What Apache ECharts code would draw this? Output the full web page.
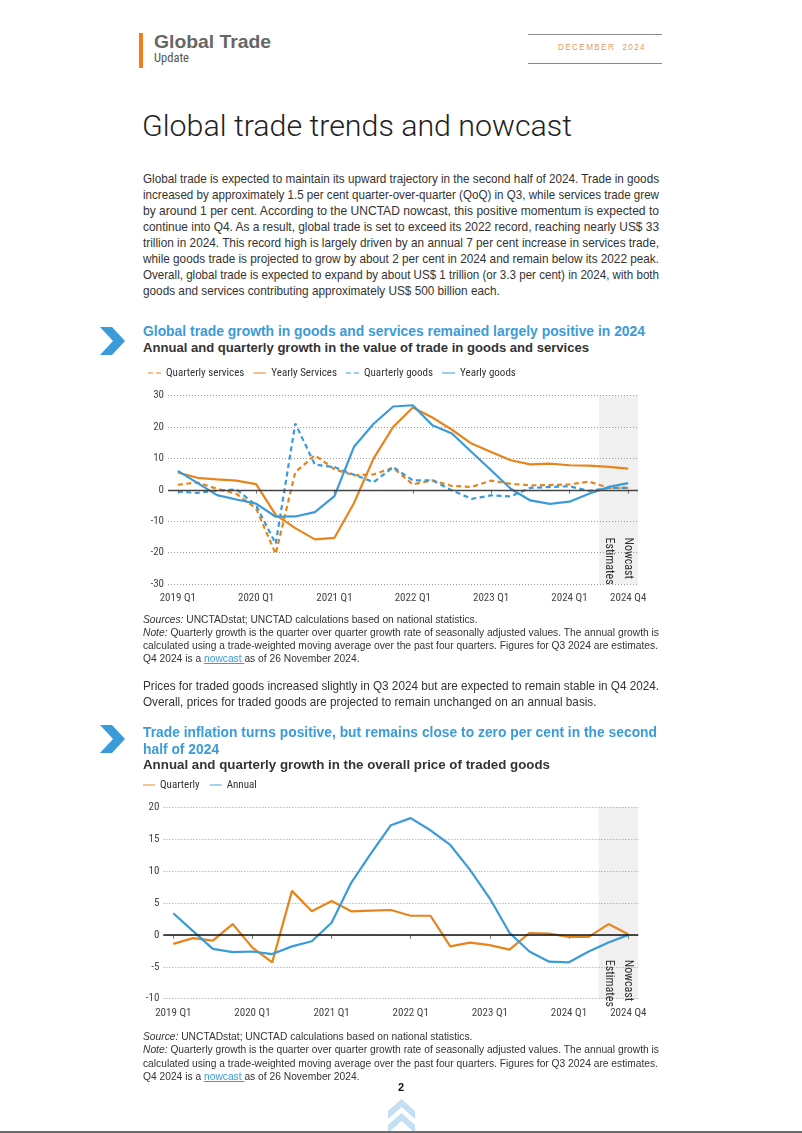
<!DOCTYPE html>
<html><head><meta charset="utf-8">
<script src="https://cdn.jsdelivr.net/npm/echarts@6/dist/echarts.min.js"></script>
<style>
html,body{margin:0;padding:0;background:#fff;}
body{width:802px;height:1133px;position:relative;overflow:hidden;font-family:'Liberation Sans',Arial,Helvetica,sans-serif;color:#333;}
.t{position:absolute;white-space:nowrap;transform-origin:0 50%;}
.b{font-weight:bold;}
.cn{font-family:'Roboto Condensed','Liberation Sans Narrow','Arial Narrow',sans-serif;}
.lk{color:#3b9bd8;text-decoration:underline;}
.blue{color:#3b9bd8;}
#c1{position:absolute;left:130px;top:360px;width:520px;height:250px;}
#c2{position:absolute;left:130px;top:775px;width:520px;height:250px;}
</style></head><body>

<!-- header -->
<div style="position:absolute;left:139px;top:33px;width:4px;height:35px;background:#f07d1a"></div>
<div class="t b" data-x="154" data-y="43" data-s="19" data-w="117" style="color:#666">Global Trade</div>
<div class="t cn" data-x="154" data-y="59" data-s="12" data-w="35" style="color:#555">Update</div>
<div style="position:absolute;left:528px;top:34px;width:134px;height:1.3px;background:#8a8a8a"></div>
<div style="position:absolute;left:528px;top:63px;width:134px;height:1.3px;background:#8a8a8a"></div>
<div class="t" data-x="558" data-y="47" data-s="8.5" data-w="88" style="color:#e59a62;letter-spacing:1.4px">DECEMBER&nbsp;&nbsp;2024</div>

<div class="t" data-x="142" data-y="127" data-s="30" data-w="430" style="font-family:Roboto,'Liberation Sans',sans-serif;font-weight:300;color:#222">Global trade trends and nowcast</div>

<!-- paragraph 1 -->
<div class="t" data-x="143" data-y="180" data-s="12.6" data-w="516" data-g="p1">Global trade is expected to maintain its upward trajectory in the second half of 2024. Trade in goods</div>
<div class="t" data-x="143" data-y="196" data-s="12.6" data-w="516" data-g="p1">increased by approximately 1.5 per cent quarter-over-quarter (QoQ) in Q3, while services trade grew</div>
<div class="t" data-x="143" data-y="212" data-s="12.6" data-w="516" data-g="p1">by around 1 per cent. According to the UNCTAD nowcast, this positive momentum is expected to</div>
<div class="t" data-x="143" data-y="228" data-s="12.6" data-w="516" data-g="p1">continue into Q4. As a result, global trade is set to exceed its 2022 record, reaching nearly US$ 33</div>
<div class="t" data-x="143" data-y="244" data-s="12.6" data-w="516" data-g="p1">trillion in 2024. This record high is largely driven by an annual 7 per cent increase in services trade,</div>
<div class="t" data-x="143" data-y="260" data-s="12.6" data-w="516" data-g="p1">while goods trade is projected to grow by about 2 per cent in 2024 and remain below its 2022 peak.</div>
<div class="t" data-x="143" data-y="276" data-s="12.6" data-w="516" data-g="p1">Overall, global trade is expected to expand by about US$ 1 trillion (or 3.3 per cent) in 2024, with both</div>
<div class="t" data-x="143" data-y="292" data-s="12.6" data-g="p1">goods and services contributing approximately US$ 500 billion each.</div>

<!-- chart 1 heading -->
<svg style="position:absolute;left:100px;top:327px" width="26" height="29"><polygon points="0,0 12,0 25,14 12,28 0,28 13,14" fill="#3b9bd8"/></svg>
<div class="t b blue" data-x="143" data-y="332" data-s="14.3" data-w="502">Global trade growth in goods and services remained largely positive in 2024</div>
<div class="t b" data-x="143" data-y="349" data-s="13.6" data-w="446" style="color:#333">Annual and quarterly growth in the value of trade in goods and services</div>

<div id="c1"></div>

<!-- notes 1 -->
<div class="t" data-x="143" data-y="620" data-s="10.8" data-g="n1"><i>Sources:</i> UNCTADstat; UNCTAD calculations based on national statistics.</div>
<div class="t" data-x="143" data-y="633" data-s="10.8" data-w="516" data-g="n1"><i>Note:</i> Quarterly growth is the quarter over quarter growth rate of seasonally adjusted values. The annual growth is</div>
<div class="t" data-x="143" data-y="646" data-s="10.8" data-w="515" data-g="n1">calculated using a trade-weighted moving average over the past four quarters. Figures for Q3 2024 are estimates.</div>
<div class="t" data-x="143" data-y="659" data-s="10.8" data-g="n1">Q4 2024 is a <span class="lk">nowcast </span>as of 26 November 2024.</div>

<div class="t" data-x="143" data-y="687" data-s="12.6" data-w="516" data-g="p2">Prices for traded goods increased slightly in Q3 2024 but are expected to remain stable in Q4 2024.</div>
<div class="t" data-x="143" data-y="703" data-s="12.6" data-g="p2">Overall, prices for traded goods are projected to remain unchanged on an annual basis.</div>

<!-- chart 2 heading -->
<svg style="position:absolute;left:100px;top:725px" width="26" height="29"><polygon points="0,0 12,0 25,14 12,28 0,28 13,14" fill="#3b9bd8"/></svg>
<div class="t b blue" data-x="143" data-y="733" data-s="14.3" data-w="514" data-g="h2">Trade inflation turns positive, but remains close to zero per cent in the second</div>
<div class="t b blue" data-x="143" data-y="750" data-s="14.3" data-g="h2">half of 2024</div>
<div class="t b" data-x="143" data-y="766" data-s="13.6" data-w="407" style="color:#333">Annual and quarterly growth in the overall price of traded goods</div>

<div id="c2"></div>

<!-- notes 2 -->
<div class="t" data-x="143" data-y="1037" data-s="10.8" data-g="n2"><i>Source:</i> UNCTADstat; UNCTAD calculations based on national statistics.</div>
<div class="t" data-x="143" data-y="1050" data-s="10.8" data-w="516" data-g="n2"><i>Note:</i> Quarterly growth is the quarter over quarter growth rate of seasonally adjusted values. The annual growth is</div>
<div class="t" data-x="143" data-y="1064" data-s="10.8" data-w="515" data-g="n2">calculated using a trade-weighted moving average over the past four quarters. Figures for Q3 2024 are estimates.</div>
<div class="t" data-x="143" data-y="1077" data-s="10.8" data-g="n2">Q4 2024 is a <span class="lk">nowcast </span>as of 26 November 2024.</div>

<div class="t b" data-x="401" data-y="1088" data-s="11" data-c="1" style="color:#111">2</div>
<svg style="position:absolute;left:388px;top:1099px" width="27" height="36"><polygon points="13.5,0 27,12 27,20 13.5,8 0,20 0,12" fill="#c3dff4"/><polygon points="13.5,14 27,26 27,34 13.5,22 0,34 0,26" fill="#c3dff4"/></svg>
<div style="position:absolute;left:0;top:1131px;width:802px;height:2px;background:#6d6d6d"></div>

<script>
// ---------- data ----------
const quarters = ['2019 Q1','2019 Q2','2019 Q3','2019 Q4','2020 Q1','2020 Q2','2020 Q3','2020 Q4',
  '2021 Q1','2021 Q2','2021 Q3','2021 Q4','2022 Q1','2022 Q2','2022 Q3','2022 Q4',
  '2023 Q1','2023 Q2','2023 Q3','2023 Q4','2024 Q1','2024 Q2','2024 Q3','2024 Q4'];

// Chart 1: value of trade (growth, %)
const quarterlyServices = [1.6, 2.3, 0.3, -1.3, -6.0, -20.4, 5.6, 11.0, 6.5, 4.6, 4.9, 7.0, 1.7, 3.0, 1.2, 0.9, 2.9, 1.9, 1.4, 1.5, 1.7, 2.6, 0.6, 0.6];
const yearlyServices    = [5.5, 3.8, 3.3, 2.9, 1.8, -8.0, -12.2, -15.8, -15.3, -4.2, 10.0, 20.0, 26.2, 23.0, 19.1, 14.7, 12.0, 9.4, 8.1, 8.3, 7.8, 7.7, 7.3, 6.7];
const quarterlyGoods    = [-0.6, -1.0, -0.3, 0.1, -5.0, -17.2, 21.1, 8.0, 7.2, 4.8, 2.4, 7.2, 3.0, 3.0, -0.2, -2.9, -1.8, -2.1, 0.6, 0.9, 1.1, -0.4, 0.6, 0.6];
const yearlyGoods       = [6.0, 2.2, -1.7, -3.1, -4.4, -8.6, -8.5, -7.1, -2.0, 13.7, 21.0, 26.5, 26.9, 20.5, 17.9, 12.0, 6.2, 0.3, -3.4, -4.5, -3.8, -1.3, 0.9, 2.1];

// Chart 2: price of traded goods (growth, %)
const priceQuarterly = [-1.4, -0.5, -0.9, 1.7, -2.0, -4.3, 6.9, 3.7, 5.3, 3.7, 3.8, 3.9, 3.0, 3.0, -1.8, -1.2, -1.6, -2.3, 0.3, 0.2, -0.3, -0.3, 1.7, 0.1];
const priceAnnual    = [3.4, 0.6, -2.2, -2.7, -2.6, -3.0, -1.8, -1.0, 1.9, 8.2, 12.8, 17.2, 18.3, 16.4, 14.1, 10.2, 5.7, 0.3, -2.6, -4.2, -4.3, -2.6, -1.2, 0.0];

const seriesNames1 = ['Quarterly services','Yearly Services','Quarterly goods','Yearly goods'];
const seriesNames2 = ['Quarterly','Annual'];
const shadeLabels = ['Estimates','Nowcast'];

// ---------- page text layout ----------
const els = Array.from(document.querySelectorAll('.t'));
els.forEach(el=>{
  const x=+el.dataset.x, y=+el.dataset.y, s=+el.dataset.s;
  el.style.fontSize=s+'px'; el.style.lineHeight=(s*1.2)+'px';
  el.style.top=(y - s*0.64)+'px'; el.style.left=x+'px';
});
const groups={};
els.forEach(el=>{
  if(el.dataset.w){
    const nat=el.getBoundingClientRect().width;
    const k=(+el.dataset.w)/nat;
    el.style.transform='scaleX('+k+')';
    if(el.dataset.g){(groups[el.dataset.g]=groups[el.dataset.g]||[]).push(k);}
  }
});
els.forEach(el=>{
  if(!el.dataset.w && el.dataset.g && groups[el.dataset.g]){
    const a=groups[el.dataset.g]; const k=a.reduce((p,q)=>p+q,0)/a.length;
    el.style.transform='scaleX('+k+')';
  }
  if(el.dataset.c){ const w=el.getBoundingClientRect().width; el.style.left=(+el.dataset.x - w/2)+'px'; }
});

// ---------- charts ----------
const FONT = "'Roboto Condensed','Liberation Sans Narrow','Arial Narrow',sans-serif";
const ORANGE = '#e8841c', BLUE = '#3b9bd8';
const shown = (i) => i % 4 === 0 || i === quarters.length - 1;
const ICON_DASH = 'path://M0,0H5V1H0Z M8,0H13V1H8Z';
const ICON_SOLID = 'path://M0,0H13V1H0Z';

function baseAxes(min, max, interval){
  return {
    xAxis:{type:'category', data:quarters, boundaryGap:true,
      axisLine:{show:false},
      axisTick:{show:true, interval:(i)=>shown(i), alignWithLabel:true, length:4, lineStyle:{color:'#777'}},
      axisLabel:{interval:(i)=>shown(i), fontSize:11, color:'#444', margin:9, fontFamily:FONT},
      splitLine:{show:false}},
    yAxis:{type:'value', min:min, max:max, interval:interval,
      axisLine:{show:false}, axisTick:{show:false},
      axisLabel:{fontSize:11, color:'#444', margin:4, fontFamily:FONT},
      splitLine:{lineStyle:{color:'#9a9a9a', type:[1,2], width:1}}}
  };
}
function line(name, data, color, dashed, zeroLine){
  const s = {name:name, type:'line', data:data, symbol:'none', showSymbol:false, smooth:false,
    lineStyle:{color:color, width:2.2, type: dashed ? [5,3.5] : 'solid'},
    itemStyle:{color:color}, z: dashed ? 3 : 4};
  if(zeroLine){
    s.markLine = {silent:true, symbol:'none', label:{show:false}, animation:false,
      lineStyle:{color:zeroLine.color, width:zeroLine.width, type:'solid'}, data:[{yAxis:0}]};
  }
  return s;
}
function legendItems(names, dashedFlags){
  return names.map((n,i)=>({name:n, icon: dashedFlags[i] ? ICON_DASH : ICON_SOLID}));
}
function addShade(chart, yTop, yBot, textVal){
  const px = (v)=>chart.convertToPixel({xAxisIndex:0}, v);
  const py = (v)=>chart.convertToPixel({yAxisIndex:0}, v);
  const n = quarters.length;
  const xq2 = px(quarters[n-3]), xq3 = px(quarters[n-2]), xq4 = px(quarters[n-1]);
  const x0 = (xq2 + xq3)/2, x1 = xq4 + (xq4 - xq3)/2;
  const y0 = py(yTop), y1 = py(yBot), ty = py(textVal);
  chart.setOption({graphic:[
    {type:'rect', silent:true, zlevel:-1, z:-10, shape:{x:x0, y:y0, width:x1-x0, height:y1-y0}, style:{fill:'#f0f0f0'}},
    {type:'text', silent:true, z:50, x:xq3, y:ty, rotation:-Math.PI/2,
      style:{text:shadeLabels[0], fill:'#333', fontSize:12, fontFamily:FONT, align:'left', verticalAlign:'middle'}},
    {type:'text', silent:true, z:50, x:xq4, y:ty, rotation:-Math.PI/2,
      style:{text:shadeLabels[1], fill:'#333', fontSize:12, fontFamily:FONT, align:'left', verticalAlign:'middle'}}
  ]});
}

const c1 = echarts.init(document.getElementById('c1'));
const ax1 = baseAxes(-30, 30, 10);
c1.setOption({
  animation:false,
  textStyle:{fontFamily:FONT},
  legend:{left:18, top:7.5, padding:0, itemWidth:13, itemHeight:2.4, itemGap:9,
    textStyle:{fontSize:11, color:'#333', fontFamily:FONT},
    data:legendItems(seriesNames1,[true,false,true,false])},
  grid:{left:38, right:12, top:35.5, bottom:26},
  xAxis:ax1.xAxis, yAxis:ax1.yAxis,
  series:[
    line(seriesNames1[0], quarterlyServices, ORANGE, true, {color:'#444', width:1.3}),
    line(seriesNames1[1], yearlyServices, ORANGE, false),
    line(seriesNames1[2], quarterlyGoods, BLUE, true),
    line(seriesNames1[3], yearlyGoods, BLUE, false)
  ]
});
addShade(c1, 30, -30, -15.2);

const c2 = echarts.init(document.getElementById('c2'));
const ax2 = baseAxes(-10, 20, 5);
c2.setOption({
  animation:false,
  textStyle:{fontFamily:FONT},
  legend:{left:13, top:4.5, padding:0, itemWidth:12, itemHeight:2.4, itemGap:10,
    textStyle:{fontSize:11, color:'#333', fontFamily:FONT},
    data:legendItems(seriesNames2,[false,false])},
  grid:{left:33.4, right:11.8, top:32.3, bottom:26.3},
  xAxis:ax2.xAxis, yAxis:ax2.yAxis,
  series:[
    line(seriesNames2[0], priceQuarterly, ORANGE, false, {color:'#111', width:1.5}),
    line(seriesNames2[1], priceAnnual, BLUE, false)
  ]
});
addShade(c2, 20, -10, -3.9);
</script>
</body></html>
